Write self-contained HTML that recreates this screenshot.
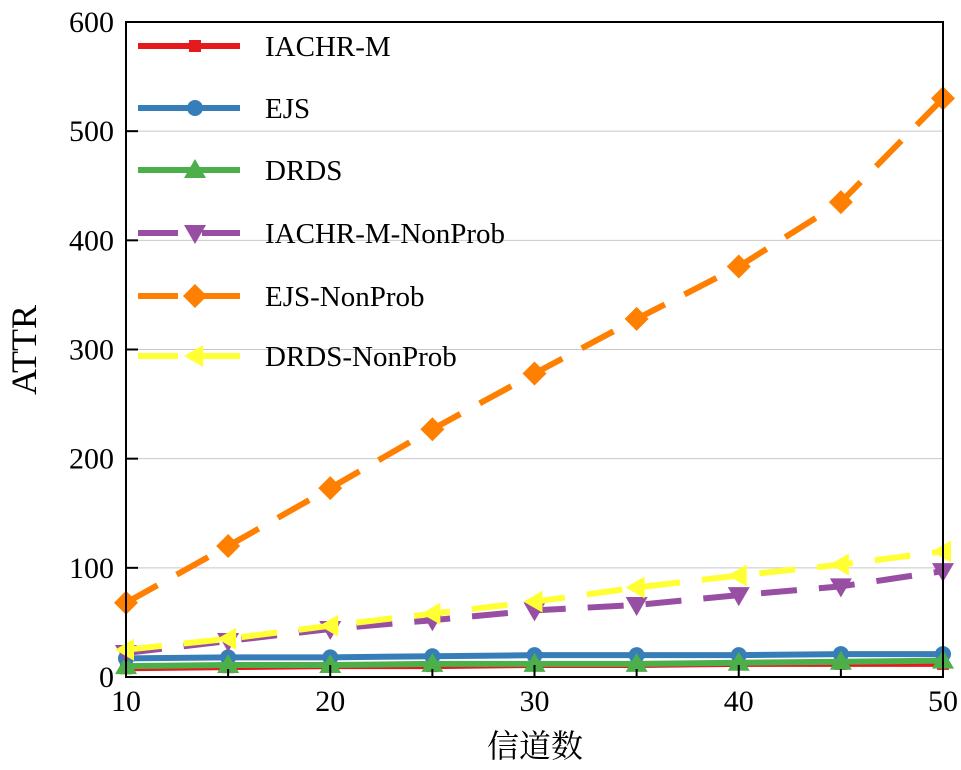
<!DOCTYPE html>
<html><head><meta charset="utf-8"><style>
html,body{margin:0;padding:0;background:#fff;}
svg text{font-family:"Liberation Serif","Noto Serif CJK SC",serif;}
</style></head><body>
<svg id="chart" width="961" height="765" viewBox="0 0 961 765" xmlns="http://www.w3.org/2000/svg"></svg>
<script>
const channels=[10,15,20,25,30,35,40,45,50];
const seriesNames=["IACHR-M","EJS","DRDS","IACHR-M-NonProb","EJS-NonProb","DRDS-NonProb"];
const iachrM=[8,9,10,10,11,11,12,12,12];
const ejs=[17,18,18,19,20,20,20,21,21];
const drds=[10,11,11,12,12,12,13,14,15];
const iachrMNonProb=[22,33,44,52,61,66,75,83,97];
const ejsNonProb=[68,120,173,227,278,328,376,435,530];
const drdsNonProb=[25,35,47,58,69,82,93,103,115];
const yTicks=[0,100,200,300,400,500,600];
const xTicks=[10,20,30,40,50];
const xMinorTicks=[15,25,35,45];

const NS="http://www.w3.org/2000/svg";
const svg=document.getElementById('chart');
const L=126,R=943,T=22,B=677;
const x=v=>L+(v-10)/(50-10)*(R-L);
const y=v=>B-v/600*(B-T);
function el(tag,attrs,parent){const e=document.createElementNS(NS,tag);for(const k in attrs)e.setAttribute(k,attrs[k]);(parent||svg).appendChild(e);return e;}

yTicks.forEach(t=>{if(t>0&&t<600){const g=el('line',{x1:L,x2:R,y1:y(t),y2:y(t),stroke:'#c8c8c8','stroke-width':1});

}});

function marker(type,cx,cy,color,g){
  let m;
  const s=11;
  if(type==='square')m=el('rect',{x:cx-6,y:cy-6,width:12,height:12,fill:color},g);
  else if(type==='circle')m=el('circle',{cx:cx,cy:cy,r:8,fill:color},g);
  else if(type==='up')m=el('polygon',{points:`${cx},${cy-s} ${cx-s},${cy+8} ${cx+s},${cy+8}`,fill:color},g);
  else if(type==='down')m=el('polygon',{points:`${cx},${cy+s} ${cx-s},${cy-8} ${cx+s},${cy-8}`,fill:color},g);
  else if(type==='diamond')m=el('polygon',{points:`${cx},${cy-12} ${cx+12},${cy} ${cx},${cy+12} ${cx-12},${cy}`,fill:color},g);
  else if(type==='left')m=el('polygon',{points:`${cx-s},${cy} ${cx+8},${cy-s} ${cx+8},${cy+s}`,fill:color},g);
  
  
}
const defs=[
 {data:iachrM,color:'#e41a1c',m:'square',dash:null},
 {data:ejs,color:'#377eb8',m:'circle',dash:null},
 {data:drds,color:'#4daf4a',m:'up',dash:null},
 {data:iachrMNonProb,color:'#984ea3',m:'down',dash:'36 22'},
 {data:ejsNonProb,color:'#ff7f00',m:'diamond',dash:'36 22'},
 {data:drdsNonProb,color:'#ffff33',m:'left',dash:'36 22'}
];
defs.forEach((d,i)=>{
  const g=el('g',{});
  
  
  const pts=d.data.map((v,j)=>x(channels[j])+','+y(v)).join(' ');
  const pl=el('polyline',{points:pts,fill:'none',stroke:d.color,'stroke-width':6});
  if(d.dash)pl.setAttribute('stroke-dasharray',d.dash);
  g.appendChild(pl);
  
  
  d.data.forEach((v,j)=>marker(d.m,x(channels[j]),y(v),d.color,g));
});

const fr=el('rect',{x:L,y:T,width:R-L,height:B-T,fill:'none',stroke:'#000','stroke-width':2});


yTicks.forEach(t=>{
  el('line',{x1:L,x2:L+12,y1:y(t),y2:y(t),stroke:'#000','stroke-width':2});
  const tx=el('text',{x:L-12,y:y(t)+10,'text-anchor':'end','font-size':30});
  tx.textContent=t;
  
  
});
xTicks.forEach(t=>{
  el('line',{x1:x(t),x2:x(t),y1:B,y2:B-12,stroke:'#000','stroke-width':2});
  const tx=el('text',{x:x(t),y:B+34,'text-anchor':'middle','font-size':30});
  tx.textContent=t;
  
  
});
xMinorTicks.forEach(t=>{el('line',{x1:x(t),x2:x(t),y1:B,y2:B-8,stroke:'#000','stroke-width':2});});

const yl=el('text',{x:0,y:0,transform:'translate(36,350) rotate(-90)','text-anchor':'middle','font-size':36});
yl.textContent='ATTR';


const xl=el('text',{x:535,y:757,'text-anchor':'middle','font-size':32});
xl.textContent='信道数';



const legendY=[46,108,170,233,296,356];
defs.forEach((d,i)=>{
  const g=el('g',{});
  
  
  const ln=el('line',{x1:138,x2:240,y1:legendY[i],y2:legendY[i],stroke:d.color,'stroke-width':6},g);
  if(d.dash)ln.setAttribute('stroke-dasharray','40 24');
  marker(d.m,195,legendY[i],d.color,g);
  const tx=el('text',{x:265,y:legendY[i]+10,'font-size':29},g);
  tx.textContent=seriesNames[i];
});
</script>
</body></html>
